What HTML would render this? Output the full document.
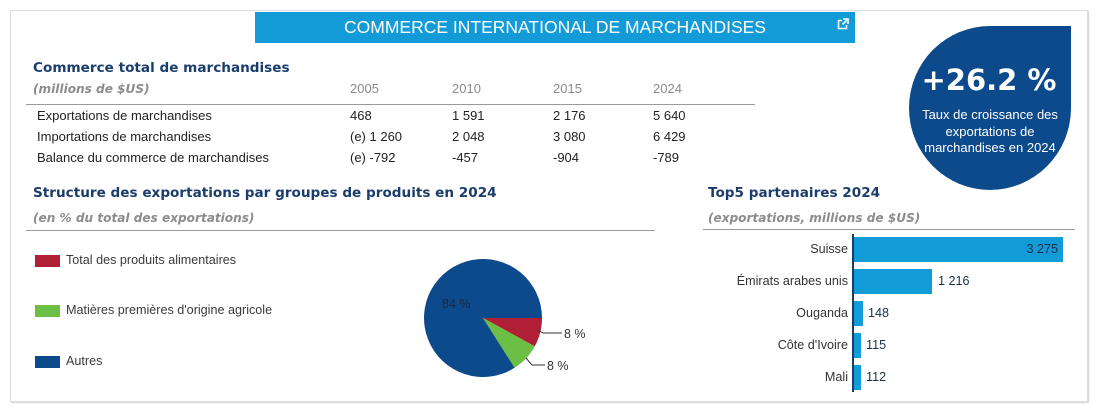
<!DOCTYPE html>
<html><head><meta charset="utf-8">
<style>
html,body{margin:0;padding:0;background:#fff;}
body{width:1100px;height:408px;position:relative;overflow:hidden;font-family:"Liberation Sans",Arial,sans-serif;}
.a{position:absolute;white-space:nowrap;}
.h{font-family:"DejaVu Sans","Liberation Sans",sans-serif;font-weight:bold;font-size:13.6px;color:#1b3d6b;height:18px;line-height:18px;}
.s{font-family:"DejaVu Sans","Liberation Sans",sans-serif;font-weight:bold;font-style:italic;font-size:12.1px;color:#8c8c8c;height:16px;line-height:16px;}
.t{font-size:13px;color:#222;height:16px;line-height:16px;}
.y{font-size:13px;color:#8a8a8a;height:16px;line-height:16px;}
.lg{font-size:12.6px;color:#3a3a3a;height:16px;line-height:16px;}
.bl{font-size:12.6px;color:#333;height:16px;line-height:16px;text-align:right;width:150px;}
.bv{font-size:12.6px;color:#1d2f4a;height:16px;line-height:16px;}
</style></head><body>
<!-- outer frame -->
<div class="a" style="left:10px;top:10px;width:1076px;height:390px;border:1px solid #dedede;box-shadow:1px 1px 1px #d2d2d2;"></div>

<!-- banner -->
<div class="a" style="left:255px;top:12px;width:600px;height:31px;background:#139bd8;"></div>
<div class="a" style="left:255px;top:12px;width:600px;height:31px;line-height:31px;text-align:center;color:#fff;font-size:17.5px;">COMMERCE INTERNATIONAL DE MARCHANDISES</div>
<svg class="a" style="left:837px;top:18px;" width="12" height="12" viewBox="0 0 12 12">
<path d="M5 2.5H1.5V10.5H9.5V7" fill="none" stroke="#fff" stroke-width="1.6"/>
<path d="M6 1H11V6" fill="none" stroke="#fff" stroke-width="1.6"/>
<path d="M11 1L5.5 6.5" stroke="#fff" stroke-width="1.8"/>
</svg>

<!-- section 1 -->
<div class="a h" style="left:33px;top:59px;">Commerce total de marchandises</div>
<div class="a s" style="left:33px;top:81px;">(millions de $US)</div>
<div class="a y" style="left:350px;top:81px;">2005</div>
<div class="a y" style="left:452px;top:81px;">2010</div>
<div class="a y" style="left:553px;top:81px;">2015</div>
<div class="a y" style="left:653px;top:81px;">2024</div>
<div class="a" style="left:26px;top:104px;width:729px;height:1px;background:#9a9a9a;"></div>

<div class="a t" style="left:37px;top:108px;">Exportations de marchandises</div>
<div class="a t" style="left:350px;top:108px;">468</div>
<div class="a t" style="left:452px;top:108px;">1 591</div>
<div class="a t" style="left:553px;top:108px;">2 176</div>
<div class="a t" style="left:653px;top:108px;">5 640</div>

<div class="a t" style="left:37px;top:129px;">Importations de marchandises</div>
<div class="a t" style="left:350px;top:129px;">(e) 1 260</div>
<div class="a t" style="left:452px;top:129px;">2 048</div>
<div class="a t" style="left:553px;top:129px;">3 080</div>
<div class="a t" style="left:653px;top:129px;">6 429</div>

<div class="a t" style="left:37px;top:150px;">Balance du commerce de marchandises</div>
<div class="a t" style="left:350px;top:150px;">(e) -792</div>
<div class="a t" style="left:452px;top:150px;">-457</div>
<div class="a t" style="left:553px;top:150px;">-904</div>
<div class="a t" style="left:653px;top:150px;">-789</div>

<!-- circle -->
<div class="a" style="left:909px;top:26px;width:162px;height:164px;background:#0d4a8b;border-radius:50% 0 50% 50%;"></div>
<div class="a" style="left:907px;top:63px;width:164px;text-align:center;color:#fff;font-family:'DejaVu Sans','Liberation Sans',sans-serif;font-weight:bold;font-size:29px;line-height:34px;">+26.2 %</div>
<div class="a" style="left:909px;top:107px;width:162px;text-align:center;color:#fff;font-size:13px;line-height:16.5px;">Taux de croissance des<br>exportations de<br>marchandises en 2024</div>

<!-- section 2 -->
<div class="a h" style="left:33px;top:184px;">Structure des exportations par groupes de produits en 2024</div>
<div class="a s" style="left:33px;top:210px;">(en % du total des exportations)</div>
<div class="a" style="left:26px;top:230px;width:629px;height:1px;background:#9a9a9a;"></div>

<div class="a" style="left:35px;top:255px;width:25px;height:12px;background:#b01f36;"></div>
<div class="a lg" style="left:66px;top:252px;">Total des produits alimentaires</div>
<div class="a" style="left:35px;top:305px;width:25px;height:12px;background:#6abf44;"></div>
<div class="a lg" style="left:66px;top:302px;">Matières premières d'origine agricole</div>
<div class="a" style="left:35px;top:356px;width:25px;height:12px;background:#0d4a8b;"></div>
<div class="a lg" style="left:66px;top:353px;">Autres</div>

<svg class="a" style="left:0;top:0;" width="1100" height="408" viewBox="0 0 1100 408">
<path d="M483 318 L542 318 A59 59 0 0 1 534.7 346.4 Z" fill="#b01f36"/>
<path d="M483 318 L534.7 346.4 A59 59 0 0 1 514.6 367.8 Z" fill="#6abf44"/>
<path d="M483 318 L514.6 367.8 A59 59 0 1 1 542 318 Z" fill="#0d4a8b"/>
<path d="M538 330 L543 333 L562 333" fill="none" stroke="#333" stroke-width="1"/>
<path d="M526 358 L532 365 L545 365" fill="none" stroke="#333" stroke-width="1"/>
<text x="442" y="308" font-family="Liberation Sans, Arial, sans-serif" font-size="12.5" fill="#1a2740">84 %</text>
<text x="564" y="338" font-family="Liberation Sans, Arial, sans-serif" font-size="12.5" fill="#333">8 %</text>
<text x="547" y="370" font-family="Liberation Sans, Arial, sans-serif" font-size="12.5" fill="#333">8 %</text>

<!-- bars -->
<rect x="854" y="237" width="209" height="25" fill="#139bd8"/>
<rect x="854" y="269" width="78" height="25" fill="#139bd8"/>
<rect x="854" y="301" width="9" height="25" fill="#139bd8"/>
<rect x="854" y="333" width="7" height="25" fill="#139bd8"/>
<rect x="854" y="365" width="7" height="25" fill="#139bd8"/>
<rect x="852" y="234" width="2" height="158" fill="#1b3d6b"/>
</svg>

<!-- section 3 -->
<div class="a h" style="left:708px;top:184px;">Top5 partenaires 2024</div>
<div class="a s" style="left:708px;top:210px;">(exportations, millions de $US)</div>
<div class="a" style="left:703px;top:229px;width:372px;height:1px;background:#9a9a9a;"></div>

<div class="a bl" style="left:698px;top:241px;">Suisse</div>
<div class="a bl" style="left:698px;top:273px;">Émirats arabes unis</div>
<div class="a bl" style="left:698px;top:305px;">Ouganda</div>
<div class="a bl" style="left:698px;top:337px;">Côte d'Ivoire</div>
<div class="a bl" style="left:698px;top:369px;">Mali</div>

<div class="a bv" style="left:1000px;top:241px;width:58px;text-align:right;">3 275</div>
<div class="a bv" style="left:938px;top:273px;">1 216</div>
<div class="a bv" style="left:868px;top:305px;">148</div>
<div class="a bv" style="left:866px;top:337px;">115</div>
<div class="a bv" style="left:866px;top:369px;">112</div>
</body></html>
